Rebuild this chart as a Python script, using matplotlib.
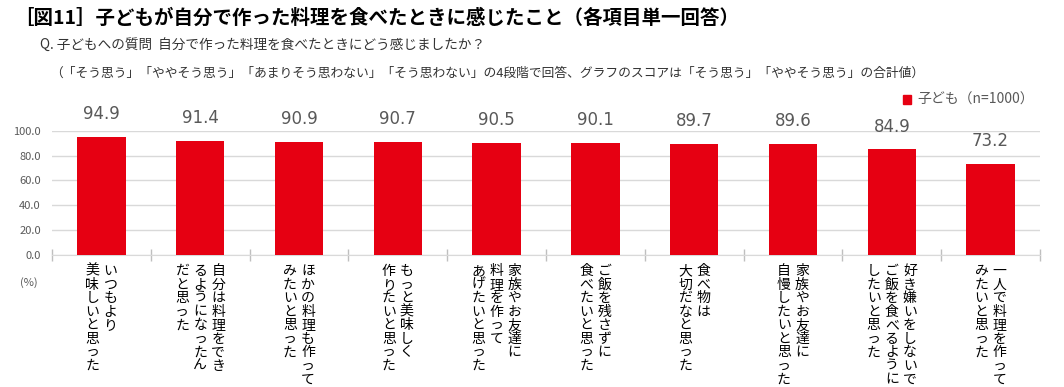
import matplotlib.pyplot as plt
from matplotlib.patches import Patch

plt.rcParams['font.family'] = ['Noto Sans CJK JP', 'DejaVu Sans']

# data
labels = [
    ["いつもより", "美味しいと思った"],
    ["自分は料理をでき", "るようになったん", "だと思った"],
    ["ほかの料理も作って", "みたいと思った"],
    ["もっと美味しく", "作りたいと思った"],
    ["家族やお友達に", "料理を作って", "あげたいと思った"],
    ["ご飯を残さずに", "食べたいと思った"],
    ["食べ物は", "大切だなと思った"],
    ["家族やお友達に", "自慢したいと思った"],
    ["好き嫌いをしないで", "ご飯を食べるように", "したいと思った"],
    ["一人で料理を作って", "みたいと思った"],
]
values = [94.9, 91.4, 90.9, 90.7, 90.5, 90.1, 89.7, 89.6, 84.9, 73.2]
yticks = [0, 20, 40, 60, 80, 100]
series_name = "子ども（n=1000）"

title = "［図11］子どもが自分で作った料理を食べたときに感じたこと（各項目単一回答）"
question = "Q. 子どもへの質問  自分で作った料理を食べたときにどう感じましたか？"
note = "（「そう思う」「ややそう思う」「あまりそう思わない」「そう思わない」の4段階で回答、グラフのスコアは「そう思う」「ややそう思う」の合計値）"

red = "#E60012"
gray = "#595959"

W, H = 1064, 387
fig = plt.figure(figsize=(W / 100, H / 100), dpi=100)
ax = fig.add_axes([52 / W, 1 - 255 / H, (1040 - 52) / W, (255 - 130.7) / H])

x = list(range(len(values)))
ax.bar(x, values, width=0.49, color=red, zorder=3)
ax.set_xlim(-0.5, len(values) - 0.5)
ax.set_ylim(0, 100)
ax.set_yticks(yticks)
ax.set_yticklabels([f"{v:.1f}" for v in yticks], color=gray, fontsize=8)
ax.tick_params(axis='y', length=0, pad=8)
ax.grid(axis='y', color="#D9D9D9", linewidth=1, zorder=0)
ax.set_xticks([])
ax.set_xticks([i + 0.5 for i in range(-1, len(values))], minor=True)
ax.tick_params(axis='x', which='minor', direction='inout', length=8, color="#BFBFBF", width=1)
for s in ['top', 'right', 'left']:
    ax.spines[s].set_visible(False)
ax.spines['bottom'].set_color("#D9D9D9")

for i, v in enumerate(values):
    ax.annotate(f"{v:.1f}", (i, v), xytext=(0, 16.5), textcoords='offset points',
                ha='center', va='center', fontsize=12, color=gray, clip_on=False,
                family='DejaVu Sans')

# vertical category labels (columns right to left)
for i, cols in enumerate(labels):
    n = len(cols)
    for j, col in enumerate(cols):
        dx = ((n - 1) / 2 - j) * 13
        ax.annotate("\n".join(col), (i, 0), xytext=(dx, -6.5), textcoords='offset points',
                    ha='center', va='top', fontsize=10, linespacing=0.96,
                    color='black', annotation_clip=False)

fig.text(20 / W, 1 - 283 / H, "(%)", ha='left', va='center', fontsize=8, color=gray)

fig.text(14 / W, 1 - 18 / H, title, ha='left', va='center', fontsize=14, fontweight='bold')
fig.text(40 / W, 1 - 46 / H, question, ha='left', va='center', fontsize=9.8, color="#333333")
fig.text(50 / W, 1 - 73 / H, note, ha='left', va='center', fontsize=9.2, color="#333333")

ax.legend(handles=[Patch(color=red, label=series_name)], frameon=False,
          loc='center right', bbox_to_anchor=(1046 / W, 1 - 100 / H),
          bbox_transform=fig.transFigure, handlelength=0.6, handleheight=0.6,
          handletextpad=0.4, fontsize=10, labelcolor=gray)

fig.savefig("out.png", dpi=100)
